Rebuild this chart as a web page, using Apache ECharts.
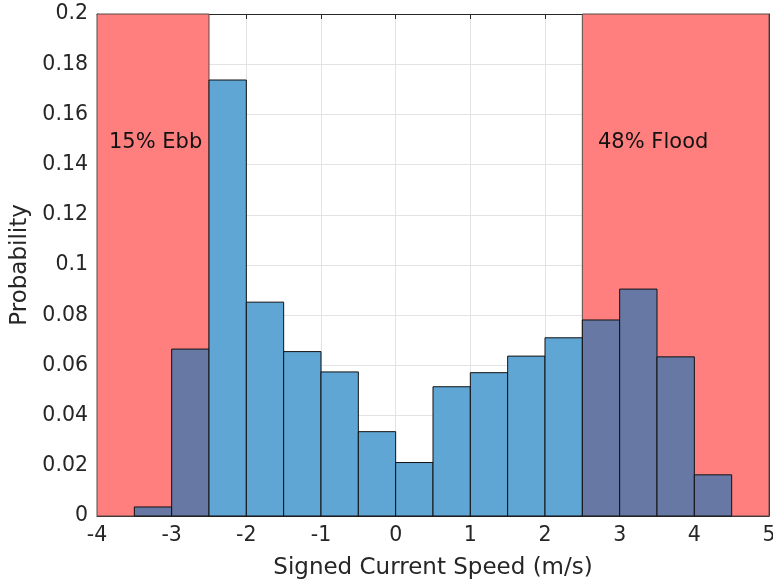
<!DOCTYPE html>
<html>
<head>
<meta charset="utf-8">
<script src="https://cdn.jsdelivr.net/npm/echarts@6/dist/echarts.min.js"></script>
<style>
  html, body { margin: 0; padding: 0; background: #fff; }
  #chart { width: 773px; height: 582px; }
</style>
</head>
<body>
<div id="chart"></div>
<script>
// Histogram bins (m/s) and probability per bin
const binEdges = [-3.5, -3, -2.5, -2, -1.5, -1, -0.5, 0, 0.5, 1, 1.5, 2, 2.5, 3, 3.5, 4, 4.5];
const probabilities = [0.0036, 0.0665, 0.1737, 0.0852, 0.0655, 0.0574, 0.0336, 0.0213,
                       0.0515, 0.0571, 0.0637, 0.0710, 0.0781, 0.0904, 0.0634, 0.0164];

// Shaded ebb / flood ranges
const ebbRange = [-4, -2.5];
const floodRange = [2.5, 5];
const regionLabels = ['15% Ebb', '48% Flood'];
const labelPositions = [[-3.84, 0.15], [2.71, 0.15]];

const binData = probabilities.map((p, i) => [binEdges[i], binEdges[i + 1], p]);
const regionData = [ebbRange, floodRange];

function inShaded(x0, x1) {
  return (x1 <= ebbRange[1] && x0 >= ebbRange[0]) || (x0 >= floodRange[0] && x1 <= floodRange[1]);
}

const tickColor = '#262626';
const chart = echarts.init(document.getElementById('chart'));

const axisCommon = {
  type: 'value',
  axisTick: { show: true, inside: true, length: 5, lineStyle: { color: tickColor, width: 1 } },
  axisLine: { show: true, onZero: false, lineStyle: { color: tickColor, width: 1 } },
};

chart.setOption({
  animation: false,
  grid: { left: 97, right: 4, top: 14, bottom: 66, containLabel: false, outerBoundsMode: 'none' },
  xAxis: [
    Object.assign({}, axisCommon, {
      min: -4, max: 5, interval: 1, position: 'bottom',
      name: 'Signed Current Speed (m/s)', nameLocation: 'middle', nameGap: 41,
      nameTextStyle: { fontFamily: 'DejaVu Sans', fontSize: 23, color: tickColor },
      axisLabel: { fontFamily: 'DejaVu Sans', fontSize: 20.5, color: tickColor, margin: 9 },
      splitLine: { show: true, lineStyle: { color: '#e3e3e3', width: 1 } },
    }),
    Object.assign({}, axisCommon, {
      min: -4, max: 5, interval: 1, position: 'top',
      axisLabel: { show: false }, splitLine: { show: false },
    }),
  ],
  yAxis: [
    Object.assign({}, axisCommon, {
      min: 0, max: 0.2, interval: 0.02, position: 'left',
      name: 'Probability', nameLocation: 'middle', nameGap: 63,
      nameTextStyle: { fontFamily: 'DejaVu Sans', fontSize: 23, color: tickColor },
      axisLabel: {
        fontFamily: 'DejaVu Sans', fontSize: 20.5, color: tickColor, margin: 9,
        formatter: v => String(parseFloat(v.toFixed(2)))
      },
      splitLine: { show: true, lineStyle: { color: '#e3e3e3', width: 1 } },
    }),
    Object.assign({}, axisCommon, {
      min: 0, max: 0.2, interval: 0.02, position: 'right',
      axisLabel: { show: false }, splitLine: { show: false },
    }),
  ],
  series: [
    {
      // shaded ebb / flood patches
      type: 'custom',
      xAxisIndex: 0, yAxisIndex: 0,
      z: 1,
      data: regionData,
      renderItem: (params, api) => {
        const p0 = api.coord([api.value(0), 0.2]);
        const p1 = api.coord([api.value(1), 0]);
        return {
          type: 'rect',
          shape: { x: p0[0], y: p0[1], width: p1[0] - p0[0], height: p1[1] - p0[1] },
          style: { fill: '#ff7f7f', stroke: '#5a4848', lineWidth: 1 }
        };
      }
    },
    {
      // histogram bins
      type: 'custom',
      xAxisIndex: 0, yAxisIndex: 0,
      z: 2,
      data: binData,
      renderItem: (params, api) => {
        const x0 = api.value(0), x1 = api.value(1);
        const p0 = api.coord([x0, api.value(2)]);
        const p1 = api.coord([x1, 0]);
        return {
          type: 'rect',
          shape: { x: p0[0], y: p0[1], width: p1[0] - p0[0], height: p1[1] - p0[1] },
          style: {
            fill: inShaded(x0, x1) ? '#6678a3' : '#60a6d5',
            stroke: '#111', lineWidth: 1
          }
        };
      }
    },
    {
      // region annotations
      type: 'custom',
      xAxisIndex: 0, yAxisIndex: 0,
      z: 3,
      data: labelPositions.map((p, i) => [p[0], p[1], regionLabels[i]]),
      renderItem: (params, api) => {
        const p = api.coord([api.value(0), api.value(1)]);
        return {
          type: 'text',
          x: p[0], y: p[1] + 3,
          style: {
            text: regionLabels[params.dataIndex],
            fontFamily: 'DejaVu Sans', fontSize: 21, fill: '#111',
            align: 'left', verticalAlign: 'middle'
          }
        };
      }
    }
  ]
});
</script>
</body>
</html>
